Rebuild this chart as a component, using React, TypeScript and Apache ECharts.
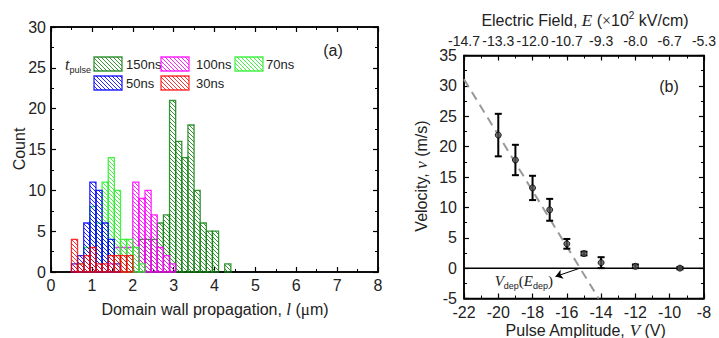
import React, { useEffect, useRef } from 'react';
import * as echarts from 'echarts';

// ---------- Data: histogram (a) ----------
const binStarts = [0.5, 0.65, 0.8, 0.95, 1.1, 1.25, 1.4, 1.55, 1.7, 1.85, 2.0, 2.15, 2.3, 2.45, 2.6, 2.75, 2.9, 3.05, 3.2, 3.35, 3.5, 3.65, 3.8, 3.95, 4.1, 4.25];
const binWidth = 0.15;
const count150 = [0, 0, 0, 0, 0, 0, 0, 0, 0, 0, 0, 4, 4, 4, 6, 7, 21, 16, 14, 18, 10, 6, 5, 5, 0, 1];
const count100 = [0, 0, 0, 0, 0, 0, 1, 3, 3, 3, 11, 9, 10, 7, 3, 2, 1, 0, 0, 0, 0, 0, 0, 0, 0, 0];
const count70 = [0, 1, 3, 8, 6, 11, 14, 10, 4, 4, 3, 1, 0, 0, 0, 0, 0, 0, 0, 0, 0, 0, 0, 0, 0, 0];
const count50 = [1, 2, 6, 11, 10, 6, 4, 1, 0, 0, 0, 0, 0, 0, 0, 0, 0, 0, 0, 0, 0, 0, 0, 0, 0, 0];
const count30 = [4, 1, 2, 3, 1, 1, 2, 2, 2, 2, 0, 0, 0, 0, 0, 0, 0, 0, 0, 0, 0, 0, 0, 0, 0, 0];
const histNames = ['150ns', '100ns', '70ns', '50ns', '30ns'];
const histCounts = [count150, count100, count70, count50, count30];
const histColors = ['rgba(20,130,20,0.85)', 'rgba(255,0,255,0.85)', 'rgba(40,240,40,0.85)', 'rgba(0,0,255,0.85)', 'rgba(255,0,0,0.8)'];

// ---------- Data: velocity (b) ----------
const pulseAmp = [-20, -19, -18, -17, -16, -15, -14, -12, -9.4];
const velocity = [21.9, 17.8, 13.2, 9.6, 4.0, 2.4, 0.9, 0.3, 0.0];
const velErr = [3.5, 2.5, 2.0, 1.8, 0.8, 0.3, 0.9, 0.3, 0.2];
const fitLine = [[-22, 31.1], [-14.14, -5]];
const zeroLine = [[-22, 0], [-8, 0]];
const depArrow = [[-15.23, 0], [-16.66, -1.38]];
const eFieldLabels = ['-14.7', '-13.3', '-12.0', '-10.7', '-9.3', '-8.0', '-6.7', '-5.3'];

const SANS = '"Liberation Sans", Arial, Helvetica, sans-serif';
const SERIF = '"Liberation Serif", "Times New Roman", serif';

function hatch(color: string) {
  const s = 4;
  const c = document.createElement('canvas');
  c.width = s;
  c.height = s;
  const ctx = c.getContext('2d')!;
  ctx.strokeStyle = color;
  ctx.lineWidth = 1;
  ctx.beginPath();
  ctx.moveTo(-1, -1);
  ctx.lineTo(s + 1, s + 1);
  ctx.moveTo(-1, s - 1);
  ctx.lineTo(1, s + 1);
  ctx.moveTo(s - 1, -1);
  ctx.lineTo(s + 1, 1);
  ctx.stroke();
  return { image: c.toDataURL(), repeat: 'repeat', imageWidth: s, imageHeight: s } as any;
}

export default function App() {
  const ref = useRef<HTMLDivElement>(null);
  useEffect(() => {
    const chart = echarts.init(ref.current!, null, { renderer: 'svg' });
    const patterns = histColors.map((c) => hatch(c));

    const axisLine = { show: true, onZero: false, lineStyle: { color: '#000', width: 1.5 } };
    const axisTick = { show: true, inside: true, length: 5, lineStyle: { color: '#000', width: 1.2 } };
    const minorTick = { show: true, splitNumber: 2, length: 3, lineStyle: { color: '#000', width: 1 } };
    const label = { color: '#222', fontSize: 16, fontFamily: SANS };

    const histSeries = histNames.map((name, k) => ({
      type: 'custom',
      name,
      xAxisIndex: 0,
      yAxisIndex: 0,
      z: 2 + k,
      encode: { x: 0, y: 1 },
      data: binStarts.map((b, i) => [b, histCounts[k][i]]).filter((d) => d[1] > 0),
      renderItem: (params: any, api: any) => {
        const x0 = api.value(0);
        const c = api.value(1);
        const p0 = api.coord([x0, c]);
        const p1 = api.coord([x0 + binWidth, 0]);
        return {
          type: 'rect',
          shape: { x: p0[0], y: p0[1], width: p1[0] - p0[0], height: p1[1] - p0[1] },
          style: { fill: patterns[k], stroke: histColors[k], lineWidth: 1.3 },
        };
      },
    }));

    const legendItems: any[] = [];
    const legendPos = [
      [94, 57, 126],
      [161, 57, 196],
      [235, 57, 266],
      [94, 76, 126],
      [161, 76, 196],
    ];
    histNames.forEach((n, k) => {
      const [bx, by, tx] = legendPos[k];
      legendItems.push({
        type: 'rect',
        shape: { x: bx, y: by, width: 28, height: 14 },
        style: { fill: patterns[k], stroke: histColors[k], lineWidth: 1.3 },
      });
      legendItems.push({
        type: 'text',
        x: tx,
        y: by + 7,
        style: { text: n, fontSize: 13, fontFamily: SANS, fill: '#222', align: 'left', verticalAlign: 'middle' },
      });
    });

    const option: any = {
      animation: false,
      backgroundColor: '#fff',
      grid: [
        { left: 51, top: 27, width: 327, height: 245, show: true, borderColor: '#000', borderWidth: 1.5, containLabel: false },
        { left: 464, top: 55.5, width: 243, height: 243, show: true, borderColor: '#000', borderWidth: 1.5, containLabel: false },
      ],
      xAxis: [
        {
          gridIndex: 0, type: 'value', position: 'bottom', min: 0, max: 8, interval: 1,
          axisLine, axisTick, minorTick, splitLine: { show: false },
          axisLabel: { ...label, margin: 5 },
        },
        {
          gridIndex: 0, type: 'value', position: 'top', min: 0, max: 8, interval: 1,
          axisLine, axisTick, minorTick, splitLine: { show: false }, axisLabel: { show: false },
        },
        {
          gridIndex: 1, type: 'value', position: 'bottom', min: -22, max: -8, interval: 2,
          axisLine, axisTick, minorTick, splitLine: { show: false },
          axisLabel: { ...label, margin: 6 },
        },
        {
          gridIndex: 1, type: 'value', position: 'top', min: -22, max: -8, interval: 2,
          axisLine, axisTick, minorTick, splitLine: { show: false },
          axisLabel: {
            ...label, fontSize: 14, margin: 8, hideOverlap: false,
            formatter: (v: number) => eFieldLabels[Math.round((v + 22) / 2)] ?? '',
          },
        },
      ],
      yAxis: [
        {
          gridIndex: 0, type: 'value', position: 'left', min: 0, max: 30, interval: 5,
          axisLine, axisTick, minorTick, splitLine: { show: false },
          axisLabel: { ...label, margin: 5 },
        },
        {
          gridIndex: 0, type: 'value', position: 'right', min: 0, max: 30, interval: 5,
          axisLine, axisTick, minorTick, splitLine: { show: false }, axisLabel: { show: false },
        },
        {
          gridIndex: 1, type: 'value', position: 'left', min: -5, max: 35, interval: 5,
          axisLine, axisTick, minorTick, splitLine: { show: false },
          axisLabel: { ...label, margin: 7 },
        },
        {
          gridIndex: 1, type: 'value', position: 'right', min: -5, max: 35, interval: 5,
          axisLine, axisTick, minorTick, splitLine: { show: false }, axisLabel: { show: false },
        },
      ],
      series: [
        ...histSeries,
        {
          type: 'line', xAxisIndex: 2, yAxisIndex: 2, data: zeroLine, symbol: 'none', z: 2,
          lineStyle: { color: '#000', width: 1.5 },
          markLine: {
            silent: true, animation: false, symbol: ['none', 'arrow'], symbolSize: 7,
            label: { show: false },
            lineStyle: { color: '#000', width: 1, type: 'solid' },
            data: [[{ coord: depArrow[0] }, { coord: depArrow[1] }]],
          },
        },
        {
          type: 'line', xAxisIndex: 2, yAxisIndex: 2, data: fitLine, symbol: 'none', z: 3,
          lineStyle: { color: '#999', width: 2, type: [9, 6] },
        },
        {
          type: 'custom', xAxisIndex: 2, yAxisIndex: 2, z: 4,
          encode: { x: 0, y: [1, 2] },
          data: pulseAmp.map((v, i) => [v, velocity[i] - velErr[i], velocity[i] + velErr[i]]),
          renderItem: (params: any, api: any) => {
            const x = api.value(0);
            const pLo = api.coord([x, api.value(1)]);
            const pHi = api.coord([x, api.value(2)]);
            const hw = 3.5;
            const st = { stroke: '#000', lineWidth: 2 };
            return {
              type: 'group',
              children: [
                { type: 'line', shape: { x1: pLo[0], y1: pLo[1], x2: pHi[0], y2: pHi[1] }, style: st },
                { type: 'line', shape: { x1: pLo[0] - hw, y1: pLo[1], x2: pLo[0] + hw, y2: pLo[1] }, style: st },
                { type: 'line', shape: { x1: pHi[0] - hw, y1: pHi[1], x2: pHi[0] + hw, y2: pHi[1] }, style: st },
              ],
            };
          },
        },
        {
          type: 'scatter', xAxisIndex: 2, yAxisIndex: 2, z: 5,
          data: pulseAmp.map((v, i) => [v, velocity[i]]),
          symbol: 'circle', symbolSize: 6,
          itemStyle: { color: '#555', borderColor: '#000', borderWidth: 1 },
        },
      ],
      graphic: [
        {
          type: 'text', x: 19, y: 149, rotation: Math.PI / 2,
          style: { text: 'Count', fontSize: 16, fontFamily: SANS, fill: '#222', align: 'center', verticalAlign: 'middle' },
        },
        {
          type: 'text', x: 215, y: 309,
          style: {
            text: '{a|Domain wall propagation, }{i|l}{a| (}{s|μ}{a|m)}',
            align: 'center', verticalAlign: 'middle',
            rich: {
              a: { fontSize: 16, fontFamily: SANS, fill: '#222' },
              i: { fontSize: 17, fontFamily: SERIF, fontStyle: 'italic', fill: '#222' },
              s: { fontSize: 17, fontFamily: SERIF, fill: '#222' },
            },
          },
        },
        {
          type: 'text', x: 65, y: 64,
          style: {
            text: '{t|t}{p|pulse}',
            align: 'left', verticalAlign: 'middle',
            rich: {
              t: { fontSize: 16, fontFamily: SERIF, fontStyle: 'italic', fill: '#222', lineHeight: 20, verticalAlign: 'middle' },
              p: { fontSize: 9, fontFamily: SANS, fill: '#222', lineHeight: 10, verticalAlign: 'bottom' },
            },
          },
        },
        ...legendItems,
        {
          type: 'text', x: 333, y: 50,
          style: { text: '(a)', fontSize: 16, fontFamily: SANS, fill: '#222', align: 'center', verticalAlign: 'middle' },
        },
        {
          type: 'text', x: 669, y: 86,
          style: { text: '(b)', fontSize: 16, fontFamily: SANS, fill: '#222', align: 'center', verticalAlign: 'middle' },
        },
        {
          type: 'text', x: 585, y: 20,
          style: {
            text: '{a|Electric Field, }{i|E}{a| (}{x|×}{a|10}{s|2}{a| kV/cm)}',
            align: 'center', verticalAlign: 'middle',
            rich: {
              a: { fontSize: 16, fontFamily: SANS, fill: '#222', lineHeight: 20, verticalAlign: 'middle' },
              i: { fontSize: 17, fontFamily: SERIF, fontStyle: 'italic', fill: '#222', lineHeight: 20, verticalAlign: 'middle' },
              x: { fontSize: 16, fontFamily: SERIF, fill: '#222', lineHeight: 20, verticalAlign: 'middle' },
              s: { fontSize: 10, fontFamily: SANS, fill: '#222', lineHeight: 12, verticalAlign: 'top' },
            },
          },
        },
        {
          type: 'text', x: 421, y: 176, rotation: Math.PI / 2,
          style: {
            text: '{a|Velocity, }{i|v}{a| (m/s)}',
            align: 'center', verticalAlign: 'middle',
            rich: {
              a: { fontSize: 16, fontFamily: SANS, fill: '#222' },
              i: { fontSize: 17, fontFamily: SERIF, fontStyle: 'italic', fill: '#222' },
            },
          },
        },
        {
          type: 'text', x: 585.5, y: 330,
          style: {
            text: '{a|Pulse Amplitude, }{i|V}{a| (V)}',
            align: 'center', verticalAlign: 'middle',
            rich: {
              a: { fontSize: 16, fontFamily: SANS, fill: '#222' },
              i: { fontSize: 17, fontFamily: SERIF, fontStyle: 'italic', fill: '#222' },
            },
          },
        },
        {
          type: 'text', x: 553, y: 281,
          style: {
            text: '{i|V}{s|dep}{r|(}{i|E}{s|dep}{r|)}',
            align: 'right', verticalAlign: 'middle',
            rich: {
              i: { fontSize: 15, fontFamily: SERIF, fontStyle: 'italic', fill: '#222', lineHeight: 18, verticalAlign: 'middle' },
              r: { fontSize: 15, fontFamily: SERIF, fill: '#222', lineHeight: 18, verticalAlign: 'middle' },
              s: { fontSize: 9, fontFamily: SANS, fill: '#222', lineHeight: 10, verticalAlign: 'bottom' },
            },
          },
        },
      ],
    };
    chart.setOption(option);
    return () => chart.dispose();
  }, []);
  return (
    <div
      ref={ref}
      style={{ position: 'fixed', left: 0, top: 0, width: 719, height: 338, background: '#fff' }}
    />
  );
}
